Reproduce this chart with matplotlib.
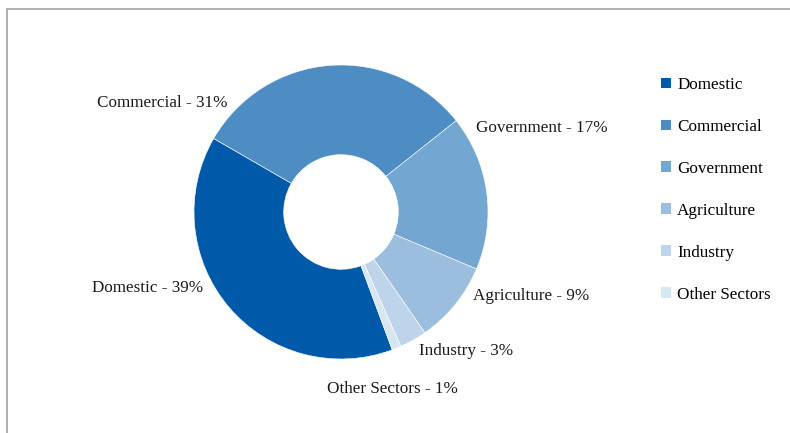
import matplotlib
matplotlib.use("Agg")
import matplotlib.pyplot as plt
from matplotlib.patches import Rectangle, Patch

plt.rcParams['font.family'] = ['Liberation Serif', 'DejaVu Serif']

sectors = ['Domestic', 'Commercial', 'Government', 'Agriculture', 'Industry', 'Other Sectors']
shares = [39, 31, 17, 9, 3, 1]
colors = ['#0059A9', '#4E8CC4', '#73A6D1', '#9BBEDE', '#BED4EA', '#D7E6F3']

# where each data label sits (figure pixels, centre of text)
label_pos = [(148, 288), (162, 103), (542, 128), (531, 296), (466, 351), (392, 389)]

W, H = 790, 433
fig = plt.figure(figsize=(W / 100, H / 100), dpi=100)

# frame (only left and top edges visible in the original)
fig.add_artist(Rectangle((7 / W, -0.2), 1.5, (H - 9) / H + 0.2, transform=fig.transFigure,
                         fill=False, edgecolor='#a8a8a8', lw=1.3))

cx, cy, r = 341, 212, 147
ax = fig.add_axes([(cx - r) / W, (H - cy - r) / H, 2 * r / W, 2 * r / H])
wedges, _ = ax.pie(shares, colors=colors, startangle=290.4, counterclock=False,
                   radius=1, wedgeprops=dict(width=0.61, edgecolor='white', linewidth=0.4))
ax.set_xlim(-1, 1)
ax.set_ylim(-1, 1)
ax.axis('off')

for name, val, (px, py) in zip(sectors, shares, label_pos):
    fig.text(px / W, 1 - py / H, f"{name} - {val}%", ha='center', va='center',
             fontsize=12.3, color='#1a1a1a')

handles = [Patch(facecolor=c, edgecolor='none') for c in colors]
fig.legend(handles, sectors, loc='upper left', bbox_to_anchor=(661 / W, 1 - 77 / H),
           frameon=False, fontsize=12.3, handlelength=0.6, handleheight=0.6,
           handletextpad=0.35, labelspacing=1.52, borderpad=0, borderaxespad=0)

fig.savefig('out.png', dpi=100, facecolor='white')
